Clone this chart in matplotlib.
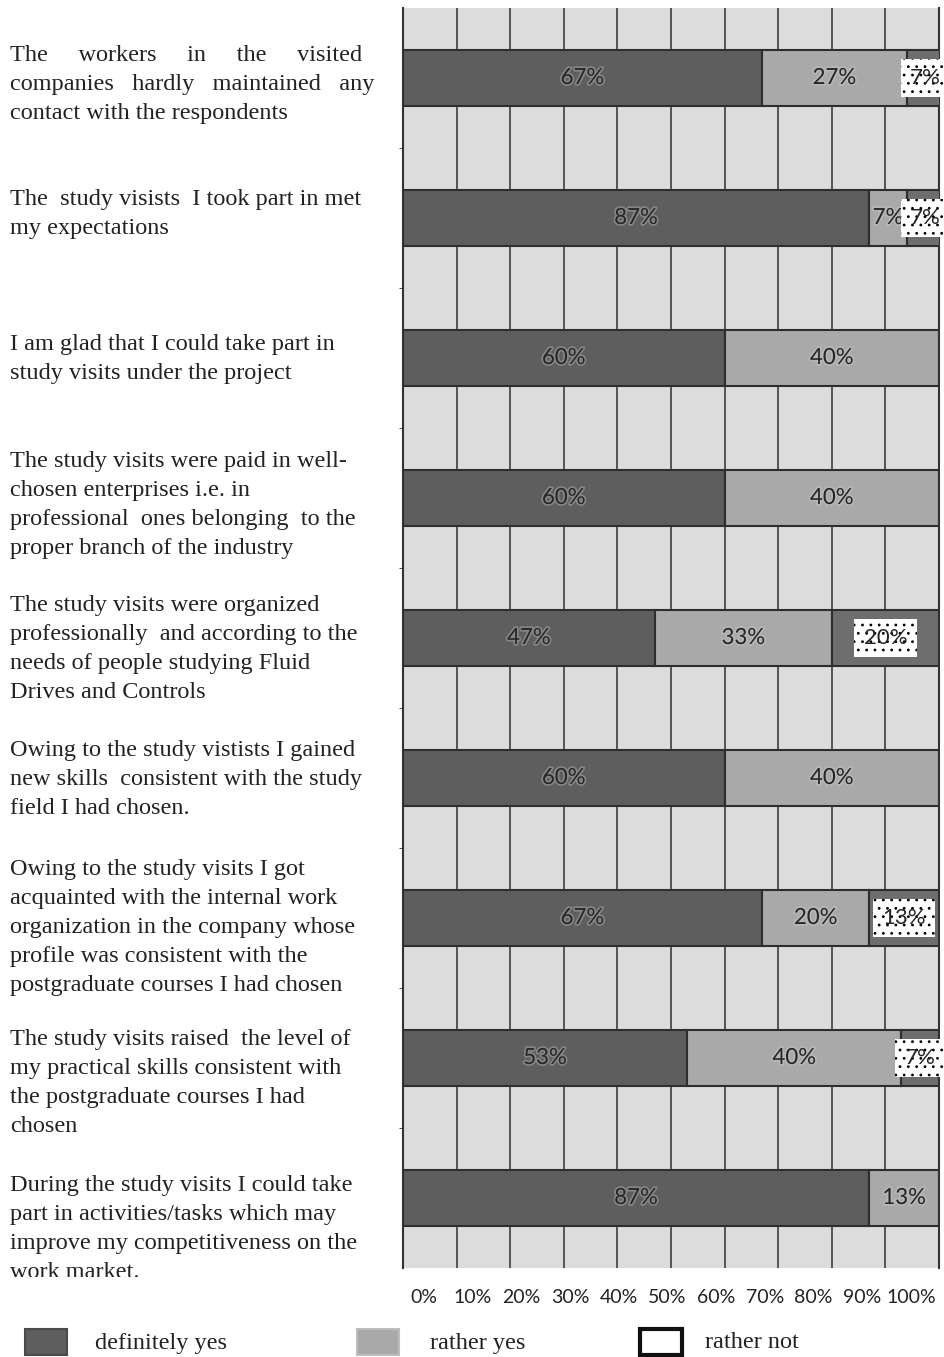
import matplotlib
matplotlib.use("Agg")
import matplotlib.pyplot as plt
import matplotlib.patheffects as pe
from matplotlib.patches import Rectangle
from matplotlib.transforms import Bbox

# survey statements (top to bottom)
statements = [
    "The     workers     in     the     visited\ncompanies   hardly   maintained   any\ncontact with the respondents",
    "The  study visists  I took part in met\nmy expectations",
    "I am glad that I could take part in\nstudy visits under the project",
    "The study visits were paid in well-\nchosen enterprises i.e. in\nprofessional  ones belonging  to the\nproper branch of the industry",
    "The study visits were organized\nprofessionally  and according to the\nneeds of people studying Fluid\nDrives and Controls",
    "Owing to the study vistists I gained\nnew skills  consistent with the study\nfield I had chosen.",
    "Owing to the study visits I got\nacquainted with the internal work\norganization in the company whose\nprofile was consistent with the\npostgraduate courses I had chosen",
    "The study visits raised  the level of\nmy practical skills consistent with\nthe postgraduate courses I had\nchosen",
    "During the study visits I could take\npart in activities/tasks which may\nimprove my competitiveness on the\nwork market.",
]
definitely_yes = [67, 87, 60, 60, 47, 60, 67, 53, 87]
rather_yes = [27, 7, 40, 40, 33, 40, 20, 40, 13]
rather_not = [7, 7, 0, 0, 20, 0, 13, 7, 0]
series_names = ["definitely yes", "rather yes", "rather not"]
x_ticks = [0, 10, 20, 30, 40, 50, 60, 70, 80, 90, 100]

# first-line pixel position of each statement (from the top of the figure)
label_top_px = [45, 189, 334, 451, 595, 740, 859, 1029, 1175]

W, H = 944, 1357
DARK = "#5e5e5e"
LIGHT = "#a9a9a9"
NOT = "#6e6e6e"
CELL = "#dcdcdc"
SERIF = "Liberation Serif"

plt.rcParams["hatch.color"] = "#6a6a6a"
plt.rcParams["hatch.linewidth"] = 0.8

fig = plt.figure(figsize=(W / 100, H / 100), dpi=100)
ax = fig.add_axes([403 / W, 1 - 1268 / H, (939 - 403) / W, (1268 - 8) / H])
ax.set_facecolor(CELL)

y = list(range(len(statements)))
left2 = [a for a in definitely_yes]
left3 = [a + b for a, b in zip(definitely_yes, rather_yes)]

ax.barh(y, definitely_yes, height=0.4, color=DARK, edgecolor="#2e2e2e", lw=1.5, zorder=3)
ax.barh(y, rather_yes, left=left2, height=0.4, color=LIGHT, edgecolor="#2e2e2e", lw=1.5, zorder=3)
ax.barh(y, rather_not, left=left3, height=0.4, color=NOT, edgecolor="#2e2e2e", lw=1.5, zorder=3)

halo = [pe.withStroke(linewidth=2.5, foreground="#d0d0d0", alpha=0.35)]
for i in y:
    segs = [(0, definitely_yes[i]), (left2[i], rather_yes[i])]
    for start, v in segs:
        if v > 0:
            ax.text(start + v / 2, i, f"{v}%", ha="center", va="center",
                    fontsize=16, family="Lato", color="#262626",
                    path_effects=halo, zorder=5)
    v = rather_not[i]
    if v > 0:
        ax.text(left3[i] + v / 2, i, f"{v}%", ha="center", va="center",
                fontsize=16, family="Lato", color="#262626", zorder=5,
                bbox=dict(boxstyle="square,pad=0.42", facecolor="white",
                          hatch="..", lw=0))

ax.set_xlim(0, 100)
ax.set_ylim(len(statements) - 0.5, -0.5)
ax.set_xticks(x_ticks)
ax.set_xticklabels([])
ax.tick_params(axis="x", length=0)
ax.set_yticks([])
ax.set_yticks([i + 0.5 for i in y[:-1]], minor=True)
ax.tick_params(axis="y", which="minor", length=3, color="#333333")
ax.grid(axis="x", color="#4a4a4a", lw=1.3, zorder=1)
ax.set_axisbelow(True)
for s in ["top", "bottom"]:
    ax.spines[s].set_visible(False)
for s in ["left", "right"]:
    ax.spines[s].set_color("#333333")
    ax.spines[s].set_linewidth(1.5)

# percentage scale printed below the grid (its own, slightly narrower scale)
scale = ax.secondary_xaxis("bottom", functions=(lambda x: (5.36 * x - 21) / 4.87,
                                                 lambda v: (4.87 * v + 21) / 5.36))
scale.set_xticks(x_ticks)
scale.set_xticklabels([f"{t}%" for t in x_ticks], fontsize=14, family="Lato", color="#222222")
scale.tick_params(length=0, pad=15)
scale.spines["bottom"].set_visible(False)

# statements on the left; the last one runs into the scale row and is cut
for i, txt in enumerate(statements):
    t = fig.text(10 / W, 1 - label_top_px[i] / H, txt, ha="left", va="top",
                 fontsize=17.5, family=SERIF, color="#222222",
                 linespacing=1.5)
    if i == len(statements) - 1:
        t.set_clip_box(Bbox.from_extents(0, H - 1277, 400, H))
        t.set_clip_on(True)

# legend row
legend_items = [(25, 95, DARK, "#4a4a4a", 1.5),
                (357, 430, LIGHT, "#bdbdbd", 1.5),
                (640, 705, "white", "#111111", 3.0)]
for (px, tx, fc, ec, lw), name in zip(legend_items, series_names):
    fig.patches.append(Rectangle((px / W, 1 - 1355 / H), 42 / W, 26 / H,
                                 transform=fig.transFigure, facecolor=fc,
                                 edgecolor=ec, lw=lw))
    fig.text(tx / W, 1 - 1343 / H, name, ha="left", va="center",
             fontsize=17.5, family=SERIF, color="#222222")

fig.savefig("out.png", dpi=100)
